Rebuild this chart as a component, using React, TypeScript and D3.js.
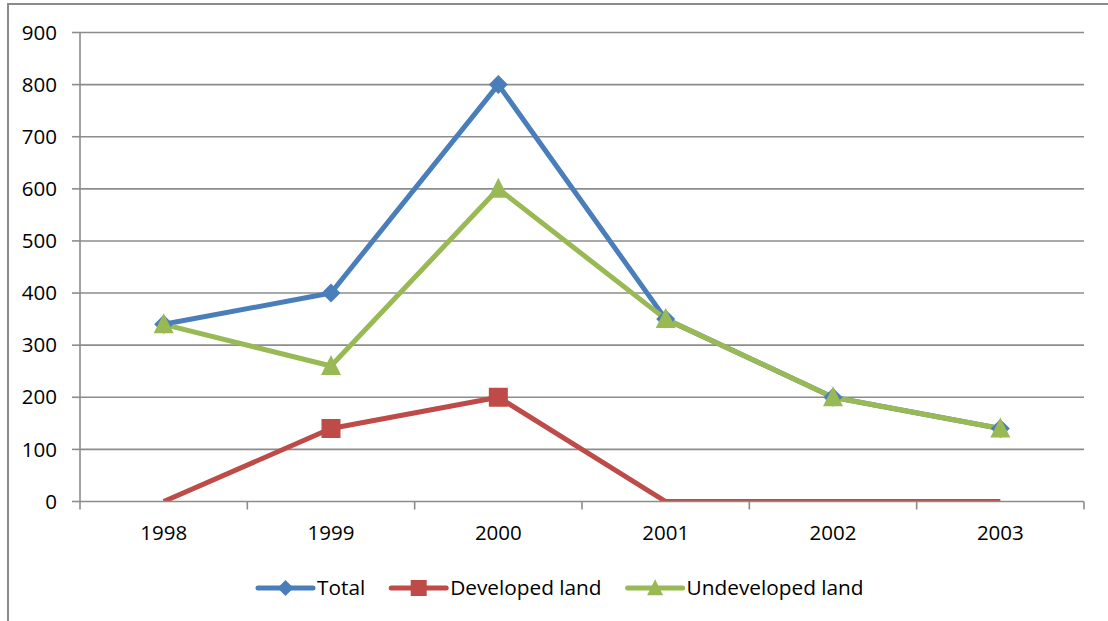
import React, { useEffect, useRef } from "react";
import * as d3 from "d3";

const years = ["1998", "1999", "2000", "2001", "2002", "2003"];
const totalValues = [340, 400, 800, 350, 200, 140];
const developedValues = [0, 140, 200, 0, 0, 0];
const undevelopedValues = [340, 260, 600, 350, 200, 140];
const yTicks = [0, 100, 200, 300, 400, 500, 600, 700, 800, 900];
const seriesNames = ["Total", "Developed land", "Undeveloped land"];
const seriesColors = ["#4A7EBB", "#BE4B48", "#98B954"];
const seriesMarkers = ["diamond", "square", "triangle"];

const W = 1108;
const H = 621;
const FONT = "'Open Sans', 'Liberation Sans', sans-serif";

function markerPath(kind: string, size: number): string {
  const s = size / 2;
  if (kind === "diamond") return `M0,${-s}L${s},0L0,${s}L${-s},0Z`;
  if (kind === "square") return `M${-s},${-s}H${s}V${s}H${-s}Z`;
  const h = size;
  return `M0,${-h * 0.55}L${s},${h * 0.45}L${-s},${h * 0.45}Z`;
}

export default function App() {
  const ref = useRef<SVGSVGElement | null>(null);

  useEffect(() => {
    const svg = d3.select(ref.current);
    svg.selectAll("*").remove();

    const left = 80, right = 1084, top = 32.5, bottom = 501.5;
    const x = d3.scaleBand<string>().domain(years).range([left, right]).padding(0);
    const y = d3.scaleLinear().domain([0, 900]).range([bottom, top]);
    const cx = (yr: string) => (x(yr) as number) + x.bandwidth() / 2;

    // frame
    svg.append("rect").attr("x", 8).attr("y", 4).attr("width", W + 20).attr("height", H + 20)
      .attr("fill", "white").attr("stroke", "#8A8A8A").attr("stroke-width", 2);

    // gridlines
    svg.append("g").selectAll("line").data(yTicks.filter((t) => t > 0)).join("line")
      .attr("x1", left).attr("x2", right)
      .attr("y1", (d) => y(d)).attr("y2", (d) => y(d))
      .attr("stroke", "#8C8C8C").attr("stroke-width", 1.6);

    // y axis
    svg.append("line").attr("x1", left).attr("x2", left).attr("y1", top).attr("y2", bottom)
      .attr("stroke", "#8C8C8C").attr("stroke-width", 1.6);
    svg.append("g").selectAll("line").data(yTicks).join("line")
      .attr("x1", left - 8).attr("x2", left)
      .attr("y1", (d) => y(d)).attr("y2", (d) => y(d))
      .attr("stroke", "#8C8C8C").attr("stroke-width", 1.6);
    svg.append("g").selectAll("text").data(yTicks).join("text")
      .attr("x", 57).attr("y", (d) => y(d)).attr("dy", "0.35em")
      .attr("text-anchor", "end").attr("font-family", FONT).attr("font-size", 20.5)
      .attr("fill", "#000").text((d) => String(d));

    // x axis
    const bounds = years.map((yr) => x(yr) as number).concat([right]);
    svg.append("g").selectAll("line").data(bounds).join("line")
      .attr("x1", (d) => d).attr("x2", (d) => d).attr("y1", bottom).attr("y2", bottom + 8)
      .attr("stroke", "#8C8C8C").attr("stroke-width", 1.6);
    svg.append("g").selectAll("text").data(years).join("text")
      .attr("x", (d) => cx(d)).attr("y", 540)
      .attr("text-anchor", "middle").attr("font-family", FONT).attr("font-size", 20.5)
      .attr("fill", "#000").text((d) => d);

    // clip for plot
    svg.append("defs").append("clipPath").attr("id", "plotclip")
      .append("rect").attr("x", left - 30).attr("y", 0).attr("width", right - left + 60).attr("height", bottom);

    const series = [totalValues, developedValues, undevelopedValues];
    const plot = svg.append("g").attr("clip-path", "url(#plotclip)");
    const line = d3.line<number>().x((_, i) => cx(years[i])).y((d) => y(d));

    series.forEach((vals, si) => {
      plot.append("path").attr("d", line(vals) as string).attr("fill", "none")
        .attr("stroke", seriesColors[si]).attr("stroke-width", 5).attr("stroke-linejoin", "round");
    });
    svg.append("line").attr("x1", left).attr("x2", right).attr("y1", bottom).attr("y2", bottom)
      .attr("stroke", "#8C8C8C").attr("stroke-width", 1.6);

    series.forEach((vals, si) => {
      plot.append("g").selectAll("path").data(vals.map((v, i) => ({ v, i })).filter((p) => p.v > 0)).join("path")
        .attr("transform", (p) => `translate(${cx(years[p.i])},${y(p.v)})`)
        .attr("d", markerPath(seriesMarkers[si], si === 2 ? 20 : 19))
        .attr("fill", seriesColors[si]);
    });

    // legend
    const lg = svg.append("g");
    let lx = 258;
    const ly = 588;
    seriesNames.forEach((name, si) => {
      lg.append("line").attr("x1", lx).attr("x2", lx + 55).attr("y1", ly).attr("y2", ly)
        .attr("stroke", seriesColors[si]).attr("stroke-width", 5).attr("stroke-linecap", "round");
      lg.append("path").attr("transform", `translate(${lx + 27.5},${ly})`)
        .attr("d", markerPath(seriesMarkers[si], 16)).attr("fill", seriesColors[si]);
      const t = lg.append("text").attr("x", lx + 59).attr("y", ly).attr("dy", "0.35em")
        .attr("font-family", FONT).attr("font-size", 20.8).attr("fill", "#000").text(name);
      const w = (t.node() as SVGTextElement).getComputedTextLength();
      lx = lx + 59 + w + 26;
    });
  }, []);

  return (
    <svg ref={ref} width={W} height={H} style={{ position: "absolute", left: 0, top: 0, display: "block" }} />
  );
}
